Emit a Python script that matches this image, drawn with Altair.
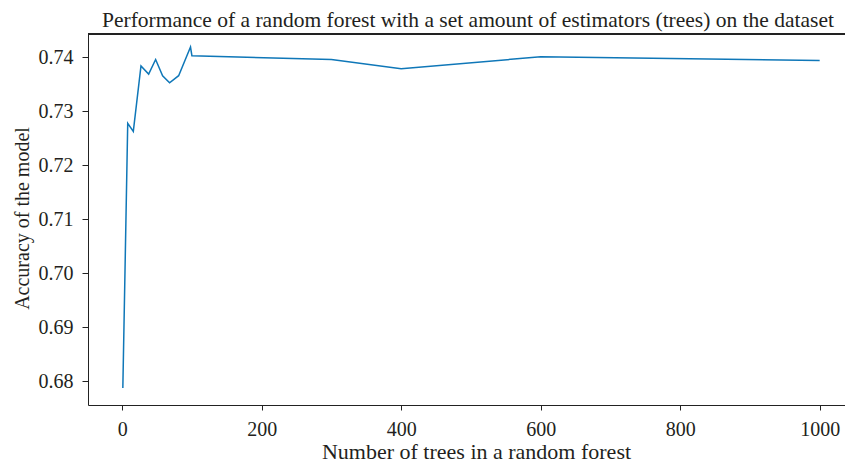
import altair as alt
import pandas as pd

# Data
n_trees = [1, 8, 16, 27, 38, 48, 58, 68, 81, 98, 100, 300, 400, 600, 1000]
accuracy = [0.6788, 0.7278, 0.7263, 0.7384, 0.7369, 0.7396, 0.7366, 0.7353,
            0.7366, 0.7419, 0.7403, 0.7396, 0.7379, 0.7401, 0.7394]
x_ticks = [0, 200, 400, 600, 800, 1000]
y_ticks = [0.68, 0.69, 0.70, 0.71, 0.72, 0.73, 0.74]
title_text = ["Performance of a random forest with a set amount of estimators (trees) on the dataset"]

df = pd.DataFrame({"trees": n_trees, "acc": accuracy})
tdf = pd.DataFrame({"t": title_text})

FONT = "Liberation Serif"
W, H = 757, 371

line = alt.Chart(df).mark_line(color="#0f77b8", strokeWidth=1.5).encode(
    x=alt.X("trees:Q",
            scale=alt.Scale(domain=[-48.95, 1036.3], nice=False, zero=False),
            axis=alt.Axis(values=x_ticks, format="d", title="Number of trees in a random forest",
                          grid=False, tickSize=5, labelPadding=25,
                          labelBaseline="alphabetic", titleBaseline="alphabetic",
                          titleFontSize=22, titleX=388, titleAlign="center",
                          titleY=53, labelFlush=False)),
    y=alt.Y("acc:Q",
            scale=alt.Scale(domain=[0.67564, 0.74432], nice=False, zero=False),
            axis=alt.Axis(values=y_ticks, format=".2f", title="Accuracy of the model",
                          grid=False, tickSize=6, labelPadding=9,
                          titleFontSize=20, titleAlign="center", titleY=184,
                          titleBaseline="alphabetic", titleX=-60, labelFlush=False)),
)

top_rule = alt.Chart(df).mark_rule(color="#222222", strokeWidth=1).encode(
    x=alt.value(0), x2=alt.value(W), y=alt.value(0)
)

title = alt.Chart(tdf).mark_text(
    font=FONT, fontSize=21.5, color="#231f20", baseline="alphabetic", align="center"
).encode(text="t:N", x=alt.value(380), y=alt.value(-7))

chart = alt.layer(line, top_rule, title).properties(
    width=W, height=H,
    autosize=alt.AutoSizeParams(type="none"),
    padding={"left": 80, "top": 26, "right": 0, "bottom": 57},
).configure_view(strokeWidth=0).configure_axis(
    labelFont=FONT, titleFont=FONT, labelFontSize=20,
    titleFontWeight="normal", labelColor="#231f20", titleColor="#231f20",
    domainColor="#222222", tickColor="#222222", domainWidth=1, tickWidth=1,
)

chart.save("out.html", embed_options={"renderer": "svg", "actions": False})
